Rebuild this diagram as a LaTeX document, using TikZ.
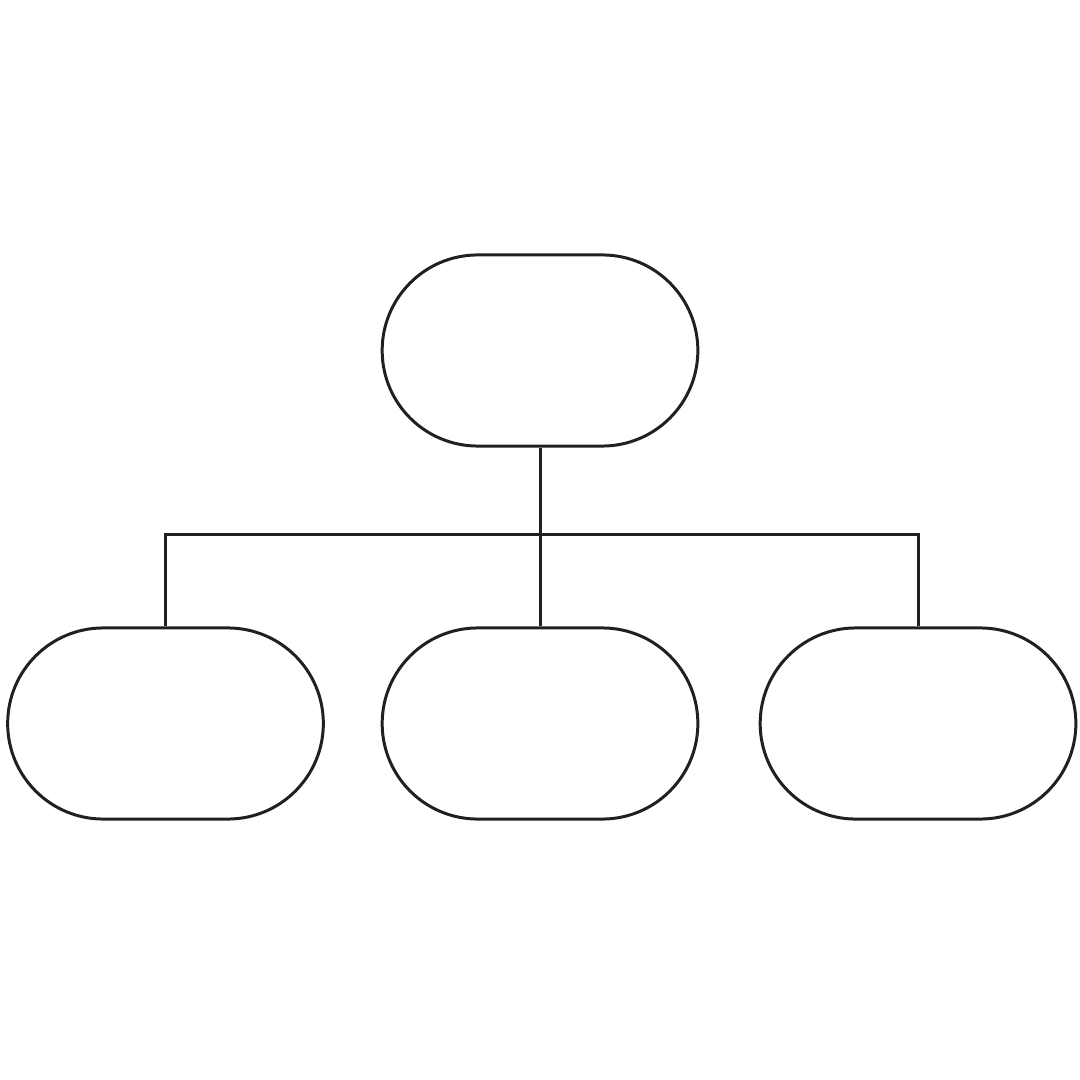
\documentclass[tikz,border=0pt]{standalone}
\usepackage{tikz}
\usetikzlibrary{positioning}
\definecolor{lineColor}{RGB}{35,31,32}
\tikzstyle{chart} = [x = 0.01cm, y = -0.01cm]
\tikzstyle{boxStyle} = [draw=lineColor, line width=0.85pt, fill=white, rectangle, rounded corners=0.955cm, minimum width=3.155cm, minimum height=1.91cm]
\tikzstyle{linkLine} = [draw=lineColor, line width=0.85pt]
\begin{document}
\begin{tikzpicture}[chart]
  \useasboundingbox (0,0) rectangle (1080,1080);
  \node [boxStyle] (head) at (540,350.5) {};
  \node [boxStyle] (leftBox) at (165.5,723.5) {};
  \node [boxStyle] (midBox) at (540,723.5) {};
  \node [boxStyle] (rightBox) at (918,723.5) {};
  \coordinate (bar) at (540,534.5);
  \draw [linkLine] (head.south) -- (midBox.north);
  \draw [linkLine] (leftBox.north) |- (bar) -| (rightBox.north);
\end{tikzpicture}
\end{document}
